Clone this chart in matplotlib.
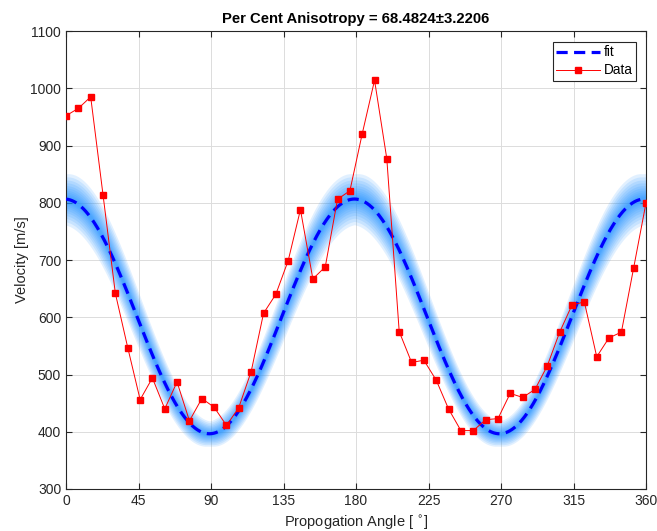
import numpy as np
import matplotlib
matplotlib.use("Agg")
import matplotlib.pyplot as plt  # noqa: E402

# measured propagation angles (deg) and velocities (m/s)
angles = [0.0, 7.7, 15.3, 23.0, 30.6, 38.3, 46.0, 53.6, 61.3, 68.9, 76.6, 84.3,
          91.9, 99.6, 107.2, 114.9, 122.6, 130.2, 137.9, 145.5, 153.2, 160.9,
          168.5, 176.2, 183.8, 191.5, 199.1, 206.8, 214.5, 222.1, 229.8, 237.4,
          245.1, 252.8, 260.4, 268.1, 275.7, 283.4, 291.1, 298.7, 306.4, 314.0,
          321.7, 329.4, 337.0, 344.7, 352.3, 360.0]
velocity = [952, 965, 985, 813, 642, 547, 456, 494, 440, 487, 419, 458,
            443, 411, 442, 505, 607, 640, 699, 788, 667, 688, 806, 821,
            920, 1014, 877, 575, 521, 525, 490, 440, 402, 402, 421, 423,
            467, 460, 474, 515, 574, 621, 627, 531, 564, 574, 686, 800]

# fitted model V = mean + amp * cos(2 (theta - phase))
fit_mean = 601.5
fit_amp = 205.0
fit_phase = -1.0
# bootstrap spread: relative scale half-widths and matching phase half-widths (deg)
band_scale = [0.055, 0.048, 0.041, 0.035, 0.029, 0.024, 0.019, 0.015, 0.011, 0.008, 0.005]
band_phase = [2.2, 1.9, 1.65, 1.4, 1.15, 0.95, 0.75, 0.6, 0.45, 0.3, 0.2]

title = "Per Cent Anisotropy = 68.4824\u00b13.2206"


def model(theta, scale=0.0, dphase=0.0):
    th = np.radians(theta - fit_phase - dphase)
    return (1 + scale) * (fit_mean + fit_amp * np.cos(2 * th))


def envelope(theta, s, p):
    curves = [model(theta, ds, dp) for ds in (-s, 0.0, s) for dp in (-p, 0.0, p)]
    curves = np.array(curves)
    return curves.min(axis=0), curves.max(axis=0)


def main():
    plt.rcParams["font.family"] = ["Liberation Sans", "DejaVu Sans"]
    fig = plt.figure(figsize=(6.57, 5.31), dpi=100)
    ax = fig.add_axes([0.1005, 0.0791, 0.8828, 0.8625])

    theta = np.linspace(0, 360, 1441)
    for s, p in zip(band_scale, band_phase):
        lo, hi = envelope(theta, s, p)
        ax.fill_between(theta, lo, hi, color="#1e90ff", alpha=0.13, lw=0, zorder=1)

    ax.plot(theta, model(theta), "--", color="#0000ff", lw=2.3,
            dashes=(3.5, 2), label="fit", zorder=3)
    ax.plot(angles, velocity, "-s", color="#ff0000", lw=0.7, ms=5,
            markeredgecolor="#ff0000", label="Data", zorder=4)

    ax.set_xlim(0, 360)
    ax.set_ylim(300, 1100)
    ax.set_xticks(range(0, 361, 45))
    ax.set_yticks(range(300, 1101, 100))
    ax.grid(True, color="#dcdcdc", lw=0.7)
    ax.set_axisbelow(True)
    ax.tick_params(direction="in", top=True, right=True, labelsize=10,
                   colors="#262626", length=4)
    for sp in ax.spines.values():
        sp.set_color("#262626")
        sp.set_linewidth(0.8)

    ax.set_title(title, fontsize=10.7, fontweight="bold", pad=6)
    ax.set_xlabel("Propogation Angle [ $^{\\circ}$]", fontsize=10.5,
                  color="#262626", labelpad=4)
    ax.set_ylabel("Velocity [m/s]", fontsize=10.5, color="#262626", labelpad=1)

    leg = ax.legend(loc="upper right", fontsize=9.8, fancybox=False,
                    framealpha=1, edgecolor="#262626", borderpad=0.25,
                    handlelength=3.2, handletextpad=0.3, labelspacing=0.3,
                    borderaxespad=0, bbox_to_anchor=(0.983, 0.976))
    leg.get_frame().set_linewidth(0.8)

    fig.savefig("out.png", dpi=100)
    plt.close(fig)


if __name__ == "__main__":
    main()
